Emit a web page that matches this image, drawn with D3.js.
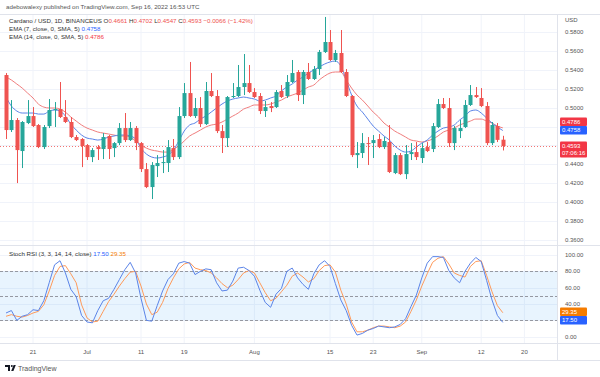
<!DOCTYPE html>
<html>
<head>
<meta charset="utf-8">
<script src="https://cdn.jsdelivr.net/npm/d3@7"></script>
<style>
body { margin: 0; background: #fff; }
svg text { font-family: "Liberation Sans", Arial, sans-serif; }
</style>
</head>
<body>
<svg id="chart" width="600" height="377"></svg>
<script>
// Daily candles, ADA/USD, Jun 16 .. Sep 16 2022
var firstDay = new Date(Date.UTC(2022, 5, 16));
var lastDay = new Date(Date.UTC(2022, 8, 16));

var opens = [0.5345,0.4763,0.4869,0.4541,0.4837,0.4911,0.4816,0.4583,0.4805,0.4975,
  0.4985,0.4901,0.4848,0.4689,0.4668,0.4604,0.4477,0.4583,0.4562,0.4700,
  0.4572,0.4625,0.4784,0.4657,0.4784,0.4625,0.4350,0.4160,0.4382,0.4414,
  0.4414,0.4572,0.4477,0.4911,0.5154,0.4911,0.4996,0.4826,0.5176,0.5123,
  0.4752,0.4678,0.5112,0.5123,0.5218,0.5260,0.5165,0.5123,0.4964,0.5017,
  0.5006,0.5176,0.5123,0.5271,0.5377,0.5133,0.5377,0.5303,0.5408,0.5588,
  0.5694,0.5504,0.5578,0.5377,0.5123,0.4498,0.4520,0.4625,0.4625,0.4668,
  0.4583,0.4636,0.4308,0.4498,0.4297,0.4509,0.4530,0.4467,0.4583,0.4562,
  0.4795,0.5038,0.4996,0.4625,0.4752,0.4795,0.5028,0.5133,0.5102,0.5017,
  0.4625,0.4805,0.4661];
var highs = [0.5366,0.5080,0.4890,0.4858,0.5080,0.5006,0.4826,0.4816,0.5091,0.5059,
  0.5271,0.5080,0.4901,0.4710,0.4678,0.4615,0.4572,0.4604,0.4731,0.4710,
  0.4636,0.4837,0.4943,0.4848,0.4805,0.4636,0.4414,0.4424,0.4498,0.4551,
  0.4657,0.4668,0.5006,0.5260,0.5483,0.5102,0.5112,0.5271,0.5366,0.5186,
  0.4816,0.5123,0.5260,0.5451,0.5567,0.5451,0.5207,0.5154,0.5070,0.5059,
  0.5186,0.5239,0.5345,0.5504,0.5398,0.5398,0.5472,0.5440,0.5610,0.5959,
  0.5821,0.5610,0.5821,0.5408,0.5133,0.4636,0.4731,0.4689,0.4710,0.4721,
  0.4689,0.4816,0.4520,0.4520,0.4604,0.4625,0.4636,0.4625,0.4636,0.4837,
  0.5091,0.5102,0.5102,0.4805,0.4869,0.5080,0.5239,0.5218,0.5207,0.5059,
  0.4848,0.4837,0.4702];
var lows = [0.4668,0.4742,0.4202,0.4361,0.4826,0.4795,0.4572,0.4562,0.4784,0.4795,
  0.4890,0.4837,0.4678,0.4647,0.4371,0.4446,0.4424,0.4446,0.4456,0.4456,
  0.4477,0.4604,0.4636,0.4647,0.4551,0.4319,0.4149,0.4033,0.4266,0.4308,
  0.4319,0.4446,0.4456,0.4890,0.4901,0.4890,0.4795,0.4816,0.5112,0.4731,
  0.4520,0.4583,0.5102,0.5112,0.5133,0.5154,0.5102,0.4932,0.4901,0.4953,
  0.4996,0.5102,0.5102,0.5260,0.5070,0.5038,0.5292,0.5292,0.5345,0.5578,
  0.5493,0.5483,0.5366,0.5112,0.4477,0.4361,0.4467,0.4393,0.4467,0.4572,
  0.4562,0.4308,0.4297,0.4287,0.4244,0.4446,0.4446,0.4414,0.4530,0.4530,
  0.4784,0.4985,0.4583,0.4551,0.4678,0.4784,0.5017,0.5102,0.5006,0.4604,
  0.4604,0.4636,0.4547];
var closes = [0.4763,0.4869,0.4551,0.4848,0.4911,0.4805,0.4583,0.4795,0.4975,0.4985,
  0.4901,0.4848,0.4689,0.4657,0.4594,0.4477,0.4551,0.4562,0.4689,0.4562,
  0.4625,0.4784,0.4657,0.4784,0.4625,0.4350,0.4160,0.4393,0.4414,0.4424,
  0.4583,0.4477,0.4911,0.5154,0.4911,0.4996,0.4826,0.5176,0.5123,0.4752,
  0.4678,0.5112,0.5123,0.5218,0.5260,0.5165,0.5112,0.4964,0.5006,0.4996,
  0.5165,0.5112,0.5271,0.5366,0.5133,0.5377,0.5303,0.5408,0.5588,0.5694,
  0.5504,0.5578,0.5377,0.5123,0.4498,0.4520,0.4625,0.4615,0.4657,0.4583,
  0.4647,0.4319,0.4498,0.4297,0.4509,0.4530,0.4477,0.4572,0.4541,0.4805,
  0.5038,0.4996,0.4625,0.4784,0.4784,0.5028,0.5133,0.5112,0.5017,0.4625,
  0.4816,0.4659,0.4593];

// EMA values as drawn on the chart
var ema7 = [0.5112,0.5017,0.4964,0.4943,0.4943,0.4943,0.4932,0.4932,0.4964,0.4975,
  0.4964,0.4911,0.4826,0.4763,0.4710,0.4678,0.4668,0.4657,0.4668,0.4689,
  0.4700,0.4710,0.4710,0.4700,0.4668,0.4572,0.4509,0.4477,0.4467,0.4477,
  0.4498,0.4551,0.4647,0.4752,0.4816,0.4837,0.4879,0.4911,0.4953,0.4996,
  0.5038,0.5070,0.5091,0.5102,0.5112,0.5102,0.5091,0.5070,0.5080,0.5102,
  0.5123,0.5176,0.5218,0.5250,0.5292,0.5324,0.5366,0.5398,0.5430,0.5461,
  0.5483,0.5493,0.5440,0.5292,0.5133,0.5017,0.4953,0.4879,0.4805,0.4752,
  0.4700,0.4657,0.4594,0.4551,0.4530,0.4541,0.4583,0.4625,0.4657,0.4710,
  0.4752,0.4784,0.4795,0.4816,0.4869,0.4911,0.4964,0.4975,0.4943,0.4890,
  0.4837,0.4795,0.4758];
var ema14 = [0.5324,0.5292,0.5250,0.5207,0.5154,0.5102,0.5038,0.5006,0.4996,0.4996,
  0.4985,0.4953,0.4901,0.4858,0.4816,0.4784,0.4763,0.4742,0.4731,0.4721,
  0.4710,0.4700,0.4700,0.4689,0.4647,0.4604,0.4572,0.4551,0.4541,0.4530,
  0.4530,0.4562,0.4594,0.4647,0.4700,0.4731,0.4763,0.4795,0.4816,0.4826,
  0.4848,0.4879,0.4911,0.4943,0.4985,0.5006,0.5028,0.5028,0.5028,0.5038,
  0.5059,0.5080,0.5112,0.5133,0.5154,0.5186,0.5218,0.5239,0.5292,0.5334,
  0.5366,0.5377,0.5377,0.5292,0.5207,0.5133,0.5080,0.5017,0.4953,0.4901,
  0.4837,0.4795,0.4752,0.4721,0.4689,0.4657,0.4647,0.4636,0.4647,0.4668,
  0.4700,0.4742,0.4763,0.4784,0.4816,0.4837,0.4858,0.4879,0.4879,0.4858,
  0.4837,0.4805,0.4786];

// Stoch RSI %K and %D
var stochK = [29,32,20,25,27,33,32,44,66,88,93,78,58,49,26,18,17,32,44,47,
  58,70,82,91,78,47,20,19,38,56,70,77,90,92,90,76,80,83,82,66,
  56,57,68,84,85,81,74,57,42,36,52,59,80,84,72,64,58,77,88,93,
  86,65,45,32,14,2,4,8,10,13,12,11,12,15,22,37,51,72,90,98,
  98,97,81,72,66,80,90,97,92,69,45,26,17.5];
var stochD = [25,27,25,24,26,29,31,39,56,75,86,87,77,66,39,23,18,19,31,43,
  52,62,71,79,80,62,40,27,30,42,59,72,83,89,91,84,82,81,78,72,
  65,60,63,70,78,81,78,66,54,44,47,55,63,74,78,73,67,71,81,87,
  88,79,57,40,18,6,6,8,11,13,13,12,11,13,18,31,45,62,77,91,
  96,98,89,78,75,73,86,92,93,75,55,38,29.35];

var priceTicks = [0.36,0.38,0.40,0.42,0.44,0.46,0.48,0.50,0.52,0.54,0.56,0.58];
var rsiTicks = [0,20,40,60,80,100];
var rsiLevels = [80,50,20];
var timeTickDates = [[2022,5,21],[2022,6,1],[2022,6,11],[2022,6,19],[2022,7,1],
  [2022,7,15],[2022,7,23],[2022,8,1],[2022,8,12],[2022,8,20]];
var timeTickLabels = ['21','Jul','11','19','Aug','15','23','Sep','12','20'];

var UP = '#26a69a', DOWN = '#ef5350';
var plotRight = 557;

var svg = d3.select('#chart');
var days = d3.utcDay.range(firstDay, d3.utcDay.offset(lastDay, 1));
var candles = days.map(function (d, i) {
  return { date: d, o: opens[i], h: highs[i], l: lows[i], c: closes[i] };
});

var x = d3.scaleUtc()
  .domain([firstDay, new Date(Date.UTC(2022, 8, 20))])
  .range([6, 524.4]);
var y = d3.scaleLinear().domain([0.36, 0.58]).range([240, 32]);
var yr = d3.scaleLinear().domain([0, 100]).range([336.7, 255]);

// tag boxes on the right axis (top y, height)
var tags = [
  { y: 117.5, h: 8.5, fill: '#f23645', lines: [d3.format('.4f')(ema14[ema14.length - 1])] },
  { y: 126, h: 8.5, fill: '#2962ff', lines: [d3.format('.4f')(ema7[ema7.length - 1])] },
  { y: 141.5, h: 16, fill: '#f23645', lines: [d3.format('.4f')(closes[closes.length - 1]), '07:06:16'] },
  { y: 307.5, h: 8.5, fill: '#f57c00', lines: [d3.format('.2f')(stochD[stochD.length - 1])] },
  { y: 316, h: 8.5, fill: '#2962ff', lines: [d3.format('.2f')(stochK[stochK.length - 1])] }
];
var hidden = function (py) {
  return tags.some(function (t) { return py > t.y - 3 && py < t.y + t.h + 3; });
};

svg.append('rect').attr('width', 600).attr('height', 377).attr('fill', '#fff');

// header
svg.append('text').attr('x', 6).attr('y', 9)
  .attr('font-size', 6.2).attr('fill', '#555')
  .text('adebowalexy published on TradingView.com, Sep 16, 2022 16:53 UTC');

// grid
var grid = svg.append('g');
grid.selectAll('.vg').data(timeTickDates).enter().append('line')
  .attr('x1', function (d) { return x(Date.UTC(d[0], d[1], d[2])); })
  .attr('x2', function (d) { return x(Date.UTC(d[0], d[1], d[2])); })
  .attr('y1', 14).attr('y2', 343)
  .attr('stroke', '#f0f3fa').attr('stroke-width', 1);
grid.selectAll('.hg').data(priceTicks).enter().append('line')
  .attr('x1', 0).attr('x2', plotRight)
  .attr('y1', function (d) { return Math.round(y(d)) + 0.5; })
  .attr('y2', function (d) { return Math.round(y(d)) + 0.5; })
  .attr('stroke', '#f0f3fa');
grid.selectAll('.rg').data(rsiTicks).enter().append('line')
  .attr('x1', 0).attr('x2', plotRight)
  .attr('y1', function (d) { return Math.round(yr(d)) + 0.5; })
  .attr('y2', function (d) { return Math.round(yr(d)) + 0.5; })
  .attr('stroke', '#f0f3fa');

// frame lines
svg.append('line').attr('x1', 0).attr('x2', 600).attr('y1', 14.5).attr('y2', 14.5).attr('stroke', '#e0e3eb');
svg.append('line').attr('x1', 0).attr('x2', 600).attr('y1', 245.5).attr('y2', 245.5).attr('stroke', '#e0e3eb');
svg.append('line').attr('x1', 0).attr('x2', 600).attr('y1', 343.5).attr('y2', 343.5).attr('stroke', '#e0e3eb');
svg.append('line').attr('x1', 0).attr('x2', 600).attr('y1', 360.5).attr('y2', 360.5).attr('stroke', '#e0e3eb');
svg.append('line').attr('x1', plotRight + 0.5).attr('x2', plotRight + 0.5).attr('y1', 14).attr('y2', 360).attr('stroke', '#e0e3eb');

// EMA lines
var emaLine = function (vals) {
  return d3.line()
    .x(function (d, i) { return x(days[i]); })
    .y(function (d) { return y(d); })
    .curve(d3.curveMonotoneX)(vals);
};
svg.append('path').attr('d', emaLine(ema14)).attr('fill', 'none')
  .attr('stroke', '#f07e7e').attr('stroke-width', 1);
svg.append('path').attr('d', emaLine(ema7)).attr('fill', 'none')
  .attr('stroke', '#5b84e8').attr('stroke-width', 1);

// current price line
svg.append('line').attr('x1', 0).attr('x2', plotRight)
  .attr('y1', Math.round(y(closes[closes.length - 1])) + 0.5)
  .attr('y2', Math.round(y(closes[closes.length - 1])) + 0.5)
  .attr('stroke', DOWN).attr('stroke-opacity', 0.8)
  .attr('stroke-dasharray', '1,2').attr('stroke-width', 1);

// candles
var cg = svg.append('g').selectAll('g').data(candles).enter().append('g');
cg.append('line')
  .attr('x1', function (d) { return Math.round(x(d.date)) + 0.5; })
  .attr('x2', function (d) { return Math.round(x(d.date)) + 0.5; })
  .attr('y1', function (d) { return y(d.h); })
  .attr('y2', function (d) { return y(d.l); })
  .attr('stroke', function (d) { return d.c >= d.o ? UP : DOWN; })
  .attr('stroke-width', 1);
cg.append('rect')
  .attr('x', function (d) { return Math.round(x(d.date)) - 1.5; })
  .attr('width', 4)
  .attr('y', function (d) { return y(Math.max(d.o, d.c)); })
  .attr('height', function (d) { return Math.max(1, Math.abs(y(d.o) - y(d.c))); })
  .attr('fill', function (d) { return d.c >= d.o ? UP : DOWN; });

// RSI band and levels
svg.append('rect').attr('x', 0).attr('width', plotRight)
  .attr('y', yr(80)).attr('height', yr(20) - yr(80))
  .attr('fill', '#2196f3').attr('fill-opacity', 0.1);
svg.selectAll('.lvl').data(rsiLevels).enter().append('line')
  .attr('x1', 0).attr('x2', plotRight)
  .attr('y1', function (d) { return Math.round(yr(d)) + 0.5; })
  .attr('y2', function (d) { return Math.round(yr(d)) + 0.5; })
  .attr('stroke', '#9598a1').attr('stroke-dasharray', '3,2').attr('stroke-width', 1);

var rsiLine = d3.line()
  .x(function (d, i) { return x(days[i]); })
  .y(function (d) { return yr(d); });
svg.append('path').attr('d', rsiLine(stochD)).attr('fill', 'none')
  .attr('stroke', '#ff9a5a').attr('stroke-width', 1);
svg.append('path').attr('d', rsiLine(stochK)).attr('fill', 'none')
  .attr('stroke', '#5b84e8').attr('stroke-width', 1);

// price axis
var axisFont = 6;
svg.append('text').attr('x', 565).attr('y', 22).attr('font-size', axisFont).attr('fill', '#555').text('USD');
svg.selectAll('.pt').data(priceTicks.filter(function (d) { return !hidden(y(d)); })).enter().append('text')
  .attr('x', 565).attr('y', function (d) { return y(d) + 2; })
  .attr('font-size', axisFont).attr('fill', '#555')
  .text(function (d) { return d3.format('.4f')(d); });
svg.selectAll('.rt').data(rsiTicks.filter(function (d) { return !hidden(yr(d)); })).enter().append('text')
  .attr('x', 565).attr('y', function (d) { return yr(d) + 2; })
  .attr('font-size', axisFont).attr('fill', '#555')
  .text(function (d) { return d3.format('.2f')(d); });

// value labels
tags.forEach(function (t) {
  svg.append('rect').attr('x', 560).attr('y', t.y).attr('width', 27).attr('height', t.h)
    .attr('rx', 1).attr('fill', t.fill);
  t.lines.forEach(function (s, k) {
    svg.append('text').attr('x', 562).attr('y', t.y + 6.3 + k * 7)
      .attr('font-size', axisFont).attr('fill', '#fff').text(s);
  });
});

// time axis
svg.selectAll('.tl').data(timeTickDates).enter().append('text')
  .attr('x', function (d) { return x(Date.UTC(d[0], d[1], d[2])); })
  .attr('y', 354).attr('text-anchor', 'middle')
  .attr('font-size', axisFont).attr('fill', '#555')
  .text(function (d, i) { return timeTickLabels[i]; });

// legends
var dark = '#333';
var leg1 = svg.append('text').attr('x', 9).attr('y', 23).attr('font-size', 6.2).attr('fill', dark);
var last = candles[candles.length - 1];
var chg = last.c - closes[closes.length - 2];
leg1.append('tspan').text('Cardano / USD, 1D, BINANCEUS  O');
leg1.append('tspan').attr('fill', DOWN).text(d3.format('.4f')(last.o));
leg1.append('tspan').text('  H');
leg1.append('tspan').attr('fill', DOWN).text(d3.format('.4f')(last.h));
leg1.append('tspan').text('  L');
leg1.append('tspan').attr('fill', DOWN).text(d3.format('.4f')(last.l));
leg1.append('tspan').text('  C');
leg1.append('tspan').attr('fill', DOWN).text(d3.format('.4f')(last.c) + '  ' +
  d3.format('.4f')(chg).replace('-', '\u2212') + ' (\u22121.42%)');

var leg2 = svg.append('text').attr('x', 9).attr('y', 31).attr('font-size', 6.2).attr('fill', dark);
leg2.append('tspan').text('EMA (7, close, 0, SMA, 5)  ');
leg2.append('tspan').attr('fill', '#2962ff').text(d3.format('.4f')(ema7[ema7.length - 1]));
var leg3 = svg.append('text').attr('x', 9).attr('y', 39).attr('font-size', 6.2).attr('fill', dark);
leg3.append('tspan').text('EMA (14, close, 0, SMA, 5)  ');
leg3.append('tspan').attr('fill', '#f23645').text(d3.format('.4f')(ema14[ema14.length - 1]));

var leg4 = svg.append('text').attr('x', 9).attr('y', 256).attr('font-size', 6.2).attr('fill', dark);
leg4.append('tspan').text('Stoch RSI (3, 3, 14, 14, close)  ');
leg4.append('tspan').attr('fill', '#2962ff').text(d3.format('.2f')(stochK[stochK.length - 1]));
leg4.append('tspan').text('  ');
leg4.append('tspan').attr('fill', '#f57c00').text(d3.format('.2f')(stochD[stochD.length - 1]));

// logo
var logo = svg.append('g').attr('fill', '#131722');
logo.append('rect').attr('x', 5).attr('y', 365).attr('width', 5).attr('height', 2);
logo.append('rect').attr('x', 8).attr('y', 365).attr('width', 2).attr('height', 6);
logo.append('circle').attr('cx', 11.8).attr('cy', 366).attr('r', 1);
logo.append('path').attr('d', 'M13.6,365 L15.8,365 L13.4,371 L11.2,371 Z');
svg.append('text').attr('x', 18).attr('y', 370.5).attr('font-size', 7).attr('fill', '#555').text('TradingView');
</script>
</body>
</html>
